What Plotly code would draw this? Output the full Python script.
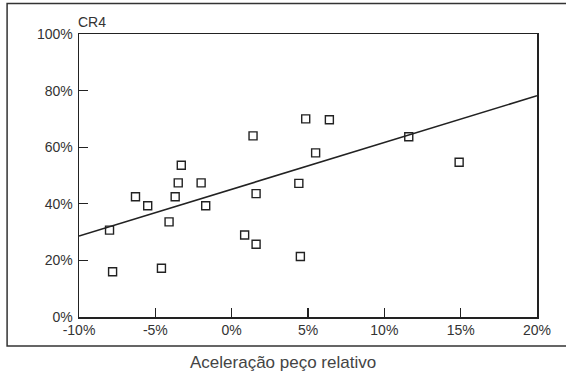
import plotly.graph_objects as go

# Scatter data: relative weight acceleration (%) vs CR4 (%)
accel_pct = [2.7, 1.4, -3.3, -3.5, -2.0, 4.85, 6.4, 5.5, 11.6, 14.9, 4.4,
             -6.3, -5.5, -3.7, -4.1, -1.7, -8.0, -7.8, -4.6, 0.85, 1.6, 1.6, 4.5]
cr4_pct = [100.4, 64.0, 53.6, 47.4, 47.4, 70.0, 69.7, 58.0, 63.7, 54.7, 47.2,
           42.5, 39.3, 42.5, 33.6, 39.3, 30.7, 16.0, 17.2, 29.0, 25.7, 43.6, 21.4]

# Trend line endpoints
trend_x = [-10, 20]
trend_y = [28.6, 78.2]

x_ticks = [-10, -5, 0, 5, 10, 15, 20]
x_tick_labels = ["-10%", "-5%", "0%", "5%", "10%", "15%", "20%"]
y_ticks = [0, 20, 40, 60, 80, 100]
y_tick_labels = ["0%", "20%", "40%", "60%", "80%", "100%"]

FONT = "Liberation Sans, Arial, sans-serif"

fig = go.Figure()
fig.add_trace(go.Scatter(x=trend_x, y=trend_y, mode="lines",
                         line=dict(color="#222222", width=1.6),
                         showlegend=False, hoverinfo="skip"))
fig.add_trace(go.Scatter(x=accel_pct, y=cr4_pct, mode="markers",
                         marker=dict(symbol="square-open", size=8,
                                     color="#222222", line=dict(width=1.4)),
                         showlegend=False, cliponaxis=False))

axis_font = dict(family=FONT, size=14, color="#333333")

fig.update_layout(
    width=566, height=380,
    margin=dict(l=79, r=29, t=34, b=63),
    paper_bgcolor="white", plot_bgcolor="white",
    xaxis=dict(range=[-10, 20], tickmode="array", tickvals=x_ticks, ticktext=x_tick_labels,
               ticks="inside", ticklen=9, tickcolor="#222222", tickwidth=1.3,
               showline=True, linecolor="#222222", linewidth=1.5, mirror=True,
               showgrid=False, zeroline=False, tickfont=axis_font, fixedrange=True,
               automargin=False),
    yaxis=dict(range=[0, 100], tickmode="array", tickvals=y_ticks, ticktext=y_tick_labels,
               ticks="inside", ticklen=9, tickcolor="#222222", tickwidth=1.3,
               showline=True, linecolor="#222222", linewidth=1.5, mirror=True,
               showgrid=False, zeroline=False, tickfont=axis_font, fixedrange=True,
               automargin=False, ticklabelstandoff=2),
    annotations=[
        dict(text="CR4", xref="paper", yref="paper", x=-0.007, y=1.0,
             xanchor="left", yanchor="bottom", yshift=2, showarrow=False,
             font=dict(family=FONT, size=14, color="#333333")),
        dict(text="Aceleração peço relativo", xref="paper", yref="paper",
             x=0.445, y=-0.1625, xanchor="center", yanchor="middle", showarrow=False,
             font=dict(family=FONT, size=17, color="#444444")),
    ],
    shapes=[
        dict(type="rect", xref="paper", yref="paper", x0=-0.157, x1=1.08,
             y0=-0.1025, y1=1.108, line=dict(color="#333333", width=1.5),
             fillcolor="rgba(0,0,0,0)", layer="below"),
    ],
)

fig.write_html("out.html", config={"displayModeBar": False, "staticPlot": True},
               post_script="document.body.style.margin='0';document.body.style.overflow='hidden';")
